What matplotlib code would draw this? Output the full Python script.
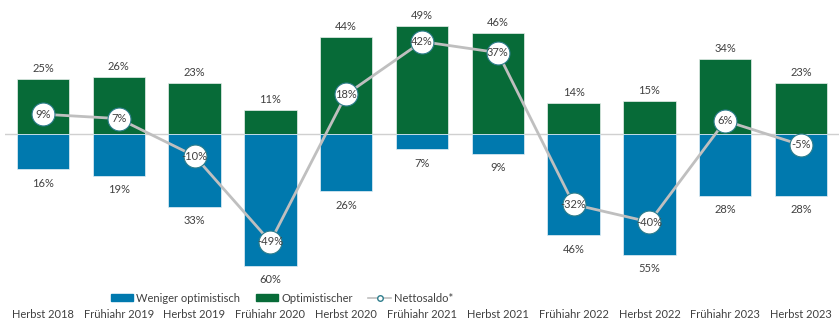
import matplotlib
matplotlib.use("Agg")
import matplotlib.pyplot as plt
from matplotlib.patches import Patch
from matplotlib.lines import Line2D
import numpy as np

categories = ["Herbst 2018", "Frühiahr 2019", "Herbst 2019", "Frühiahr 2020", "Herbst 2020",
              "Frühiahr 2021", "Herbst 2021", "Frühiahr 2022", "Herbst 2022", "Frühiahr 2023", "Herbst 2023"]
optimistischer = [25, 26, 23, 11, 44, 49, 46, 14, 15, 34, 23]
weniger = [16, 19, 33, 60, 26, 7, 9, 46, 55, 28, 28]
netto = [9, 7, -10, -49, 18, 42, 37, -32, -40, 6, -5]

GREEN = "#076B38"
BLUE = "#0079AE"
TEXT = "#404040"
FONT = "Lato"
FS = 8

fig = plt.figure(figsize=(8.39, 3.25), dpi=100)
ax = fig.add_axes([5/839, 1 - 280/325, 834/839, 280/325])
x = np.arange(len(categories))
w = 0.69
ax.bar(x, optimistischer, width=w, color=GREEN, edgecolor="#E8F0EC", linewidth=0.5, zorder=2)
ax.bar(x, [-v for v in weniger], width=w, color=BLUE, edgecolor="#E6F0F6", linewidth=0.5, zorder=2)
ax.axhline(0, color="#D0D0D0", lw=1, zorder=1)
ax.plot(x, netto, color="#BFBFBF", lw=2, zorder=3, marker="o", markersize=16.5,
        markerfacecolor="white", markeredgecolor="#2E7D8C", markeredgewidth=0.8)
for xi, o, wv, n in zip(x, optimistischer, weniger, netto):
    ax.text(xi, o + 4.8, f"{o}%", ha="center", va="center", fontsize=FS, color=TEXT, family=FONT)
    ax.text(xi, -wv - 6.3, f"{wv}%", ha="center", va="center", fontsize=FS, color=TEXT, family=FONT)
    ax.text(xi, n, f"{n}%", ha="center", va="center", fontsize=FS, color=TEXT, family=FONT, zorder=4)

ax.set_xlim(-0.5, len(categories) - 0.5)
ax.set_ylim(-(280 - 134) / 2.2, 134 / 2.2)
ax.set_xticks(x)
ax.set_xticklabels(categories, fontsize=FS, color=TEXT, family=FONT)
ax.tick_params(axis="x", length=0, pad=21)
ax.set_yticks([])
for s in ax.spines.values():
    s.set_visible(False)

handles = [Patch(color=BLUE, label="Weniger optimistisch"),
           Patch(color=GREEN, label="Optimistischer"),
           Line2D([0], [0], color="#BFBFBF", lw=1.2, marker="o", markersize=4,
                  markerfacecolor="white", markeredgecolor="#2E7D8C", label="Nettosaldo*")]
fig.legend(handles=handles, loc="center", bbox_to_anchor=(282/839, 1 - 298/325), ncol=3, frameon=False,
           prop={"family": FONT, "size": FS}, labelcolor=TEXT, handlelength=2.0, handleheight=0.6,
           columnspacing=1.4, handletextpad=0.3)

fig.savefig("out.png", dpi=100)
